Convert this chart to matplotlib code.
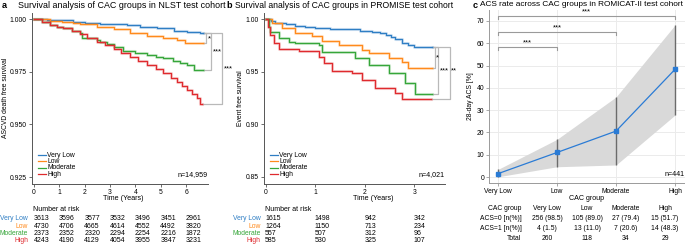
import numpy as np
import matplotlib
matplotlib.use('Agg')
import matplotlib.pyplot as plt
from matplotlib.lines import Line2D
from matplotlib.transforms import Bbox

plt.rcParams['font.family'] = ['Liberation Sans', 'DejaVu Sans']

#DATA
groups = ['Very Low', 'Low', 'Moderate', 'High']
colors = ['#2f7ec4', '#ff8a1c', '#36a63a', '#df2a2e']

#panel a, NLST: Kaplan-Meier steps (years, survival)
nlst_t = [
    [0, 0.5, 1.0, 1.55, 2.0, 2.6, 3.1, 3.66, 4.19, 4.85, 5.51, 6.03, 6.56],
    [0, 0.63, 1.1, 1.55, 1.82, 2.48, 3.14, 3.79, 4.45, 5.11, 5.64, 5.97],
    [0, 0.3, 0.63, 0.9, 1.16, 1.5, 1.82, 1.88, 2.48, 2.61, 2.9, 3.14, 3.53, 4.0,
     4.45, 4.8, 5.11, 5.5, 5.77, 6.05, 6.3],
    [0, 0.3, 0.63, 0.9, 1.16, 1.5, 1.82, 2.1, 2.48, 2.8, 3.14, 3.45, 3.79, 4.1,
     4.45, 4.8, 5.11, 5.4, 5.64, 5.85, 6.03, 6.25, 6.42, 6.55],
]
nlst_s = [
    [1, 0.9997, 0.9995, 0.9985, 0.9982, 0.9978, 0.9975, 0.9971, 0.9964, 0.9956,
     0.9943, 0.9940, 0.9932],
    [1, 0.9992, 0.9987, 0.9979, 0.9976, 0.9964, 0.9951, 0.9932, 0.9919, 0.9908,
     0.9900, 0.9886],
    [1, 0.9988, 0.9972, 0.9964, 0.9956, 0.9945, 0.9932, 0.9908, 0.9900, 0.9889,
     0.9880, 0.9869, 0.9850, 0.9840, 0.9829, 0.9822, 0.9813, 0.9802, 0.9790,
     0.9782, 0.9758],
    [1, 0.9988, 0.9972, 0.9963, 0.9955, 0.9943, 0.9929, 0.9912, 0.9893, 0.9875,
     0.9856, 0.9839, 0.9821, 0.9803, 0.9782, 0.9763, 0.9742, 0.9722, 0.9703,
     0.9684, 0.9663, 0.9643, 0.9624, 0.9597],
]
nlst_end = [6.69, 6.69, 6.69, 6.63]
nlst_ticks = [0, 1, 2, 3, 4, 5, 6]
nlst_risk = [
    [3613, 3596, 3577, 3532, 3496, 3451, 2961],
    [4730, 4706, 4665, 4614, 4552, 4492, 3820],
    [2373, 2352, 2320, 2294, 2254, 2216, 1872],
    [4243, 4190, 4129, 4054, 3955, 3847, 3231],
]
nlst_stars = ['*', '***', '***']

#panel b, PROMISE
prom_t = [
    [0, 0.1, 0.195, 0.4, 0.6, 0.8, 1.0, 1.3, 1.61, 1.9, 2.15, 2.3, 2.42, 2.52,
     2.62, 2.75, 2.87, 2.99],
    [0, 0.127, 0.33, 0.6, 0.935, 1.137, 1.474, 1.945, 2.08, 2.48, 2.75, 2.88],
    [0, 0.06, 0.093, 0.262, 0.464, 0.6, 1.07, 1.137, 1.81, 2.08, 2.48, 2.82, 3.02],
    [0, 0.04, 0.093, 0.16, 0.262, 0.666, 1.07, 1.171, 1.34, 1.74, 1.945, 2.215,
     2.62, 2.75],
]
prom_s = [
    [1, 0.998, 0.9965, 0.995, 0.9934, 0.992, 0.9911, 0.9906, 0.9902, 0.989,
     0.9880, 0.987, 0.9848, 0.983, 0.9807, 0.9769, 0.975, 0.9737],
    [1, 0.9959, 0.9911, 0.9870, 0.9839, 0.9794, 0.9753, 0.9706, 0.9674, 0.9627,
     0.9595, 0.9532],
    [1, 0.9927, 0.9880, 0.9817, 0.9785, 0.9769, 0.9755, 0.9690, 0.9627, 0.9564,
     0.9485, 0.9390, 0.9290],
    [1, 0.992, 0.9848, 0.9769, 0.9712, 0.9700, 0.9643, 0.9579, 0.9510, 0.9485,
     0.9421, 0.9342, 0.9295, 0.9238],
]
prom_end = [3.36, 3.36, 3.36, 3.33]
prom_ticks = [0, 1, 2, 3]
prom_risk = [
    [1615, 1498, 942, 342],
    [1264, 1150, 713, 234],
    [557, 507, 312, 96],
    [585, 530, 325, 107],
]
prom_stars = ['*', '***', '***']

#panel c, ROMICAT-II: 28-day ACS rate with confidence interval (%)
acs_rate = [1.5, 11.0, 20.6, 48.3]
acs_lo = [0.1, 4.6, 5.4, 27.8]
acs_hi = [3.4, 16.9, 35.9, 68.2]
acs0 = ['256 (98.5)', '105 (89.0)', '27 (79.4)', '15 (51.7)']
acs1 = ['4 (1.5)', '13 (11.0)', '7 (20.6)', '14 (48.3)']
totals = [260, 118, 34, 29]

#LAYOUT (pixel helpers, figure is 685x245)
W, H = 685, 245
def fx(px): return px / W
def fy(py): return 1 - py / H
def box(l, t, r, b): return [fx(l), fy(b), (r - l) / W, (b - t) / H]

fig = plt.figure(figsize=(6.85, 2.45), dpi=100)
FS = 4.9
GRAY = '#b9b9b9'

def km_panel(rect, ts, ss, ends, xlim, ylim, yticks, yfmt, ticks, risk,
             stars, brk, ylab_x, ylab, head, lx, n_text, xlab_x, clip_x):
    ax = fig.add_axes(rect)
    for i in range(4):
        t = ts[i] + [ends[i]]
        s = ss[i] + [ss[i][-1]]
        ax.step(t, s, where='post', color=colors[i], lw=2.2, alpha=0.22)
        ax.step(t, s, where='post', color=colors[i], lw=0.9)
    ax.set_xlim(*xlim)
    ax.set_ylim(*ylim)
    ax.set_xticks(ticks)
    ax.set_yticks(yticks)
    ax.set_yticklabels([yfmt % v for v in yticks])
    for sp in ['top', 'right']:
        ax.spines[sp].set_visible(False)
    for sp in ['left', 'bottom']:
        ax.spines[sp].set_color('#555555')
        ax.spines[sp].set_linewidth(0.7)
    ax.tick_params(labelsize=FS, length=2, width=0.6, color='#555555', pad=1.5)
    ax.set_xlabel('Time (Years)', fontsize=FS + 0.2, labelpad=0.5)
    ax.xaxis.set_label_coords(xlab_x, -0.062)
    ax.patch.set_alpha(0)

    #significance brackets from the Very Low end to each other group
    top = ss[0][-1]
    cb = Bbox([[0, 0], [clip_x, H]])
    for k in range(3):
        xv, tx, ty = brk[k]
        bot = ss[k + 1][-1]
        ax.plot([ends[0], xv, xv, ends[k + 1]], [top, top, bot, bot],
                color=GRAY, lw=0.9, clip_on=False, zorder=1)
        st = ax.text(tx, ty, stars[k], fontsize=5.6, ha='left', va='center')
        st.set_clip_box(cb)
        st.set_clip_on(True)

    #legend
    for i, g in enumerate(groups):
        yy = 155 + 6.45 * i
        fig.add_artist(Line2D([fx(lx), fx(lx + 7.5)], [fy(yy), fy(yy)],
                              color=colors[i], lw=0.9))
        fig.text(fx(lx + 9), fy(yy), g, fontsize=FS, va='center')
    ax.text(1.0, (184 - 174.5) / (184 - 13), n_text,
            transform=ax.transAxes, ha='right', va='center', fontsize=FS + 0.2)

    #title and axis label
    fig.text(fx(head[0]), fy(5), head[1], fontsize=6.6, weight='bold',
             va='center')
    fig.text(fx(head[2]), fy(5), head[3], fontsize=head[4], va='center')
    fig.text(fx(ylab_x), fy(98), ylab, fontsize=FS, rotation=90,
             ha='center', va='center')

    #number at risk table
    x0 = rect[0] * W
    tick_px = [ax.transData.transform((t, 0))[0] for t in ticks]
    fig.text(fx(tick_px[0] - 1), fy(209), 'Number at risk', fontsize=FS + 0.1,
             va='center')
    for i, g in enumerate(groups):
        yy = 219 + 7.2 * i
        fig.text(fx(x0 - 3.5), fy(yy), g, color=colors[i], fontsize=FS,
                 ha='right', va='center')
        for j, v in enumerate(risk[i]):
            fig.text(fx(tick_px[j] - 0.5), fy(yy), str(v), fontsize=FS + 0.1,
                     va='center')
    return ax

#KM panels
ax_a = km_panel(box(31.7, 13, 208, 184), nlst_t, nlst_s, nlst_end,
                (-0.091, 6.868), (0.92168, 1.00285),
                [0.925, 0.95, 0.975, 1.0], '%.3f', nlst_ticks, nlst_risk,
                nlst_stars,
                [(6.80, 6.86, 0.9905), (7.0, 7.07, 0.9843), (7.42, 7.48, 0.9763)],
                5.5, 'ASCVD death free survival',
                (2, 'a', 18.5, 'Survival analysis of CAC groups in NLST test cohort', 6.4),
                38.3, 'n=14,959', 0.52, 240)

ax_b = km_panel(box(264, 13, 445, 184), prom_t, prom_s, prom_end,
                (-0.0343, 3.62), (0.84335, 1.0057),
                [0.85, 0.90, 0.95, 1.0], '%.2f', prom_ticks, prom_risk,
                prom_stars,
                [(3.42, 3.44, 0.9627), (3.487, 3.52, 0.9507), (3.72, 3.745, 0.9507)],
                240.5, 'Event free survival',
                (226.5, 'b', 235, 'Survival analysis of CAC groups in PROMISE test cohort', 6.2),
                270, 'n=4,021', 0.602, 455.5)

#PANEL C
ax_c = fig.add_axes(box(489, 10, 685, 183))
xc = np.arange(len(groups))
ax_c.fill_between(xc, acs_lo, acs_hi, color='#d9d9d9', lw=0, zorder=1)
ax_c.vlines(xc, acs_lo, acs_hi, color='#6b6b6b', lw=1.0, zorder=2)
ax_c.plot(xc, acs_rate, color='#2a7bd5', lw=0.9, marker='s', ms=3.2, zorder=3)
ax_c.set_xlim(-0.1525, 3.169)
ax_c.set_ylim(-2.69, 74.93)
ax_c.set_xticks(xc)
ax_c.set_xticklabels(groups)
ax_c.set_yticks(range(0, 71, 10))
ax_c.grid(color='#ebebeb', lw=0.7)
ax_c.set_axisbelow(True)
for sp in ['top', 'right']:
    ax_c.spines[sp].set_visible(False)
for sp in ['left', 'bottom']:
    ax_c.spines[sp].set_color('#9a9a9a')
    ax_c.spines[sp].set_linewidth(0.7)
ax_c.tick_params(labelsize=FS, length=2, width=0.6, color='#9a9a9a', pad=1.5)
ax_c.set_xlabel('CAC group', fontsize=FS + 0.2, labelpad=0.3)
ax_c.text(1.0, (183 - 175) / 173, 'n=441', transform=ax_c.transAxes,
          ha='right', va='center', fontsize=FS + 0.2)
for j, yb in [(1, 58.3), (2, 65.0), (3, 72.2)]:
    ax_c.plot([0, 0, j, j], [yb - 1.3, yb, yb, yb - 1.3], color='#9a9a9a',
              lw=0.8, clip_on=False)
    ax_c.text(j / 2, yb + 0.3, '***', ha='center', va='bottom', fontsize=5.6)
fig.text(fx(473), fy(5), 'c', fontsize=6.6, weight='bold', va='center')
fig.text(fx(480), fy(5), 'ACS rate across CAC groups in ROMICAT-II test cohort',
         fontsize=5.95, va='center')
fig.text(fx(470.5), fy(96), '28-day ACS [%]', fontsize=FS, rotation=90,
         ha='center', va='center')

#summary table
col_x = [547, 587, 626, 665]
rows = [('CAC group', groups), ('ACS=0 [n(%)]', acs0),
        ('ACS=1 [n(%)]', acs1), ('Total', [str(v) for v in totals])]
for r, (lab, vals) in enumerate(rows):
    yy = [208, 219, 228.3, 238][r]
    fig.text(fx(521.5), fy(yy), lab, fontsize=FS, ha='right', va='center')
    for cx, v in zip(col_x, vals):
        fig.text(fx(cx), fy(yy), v, fontsize=FS, ha='center', va='center')

fig.savefig('out.png', dpi=100)
